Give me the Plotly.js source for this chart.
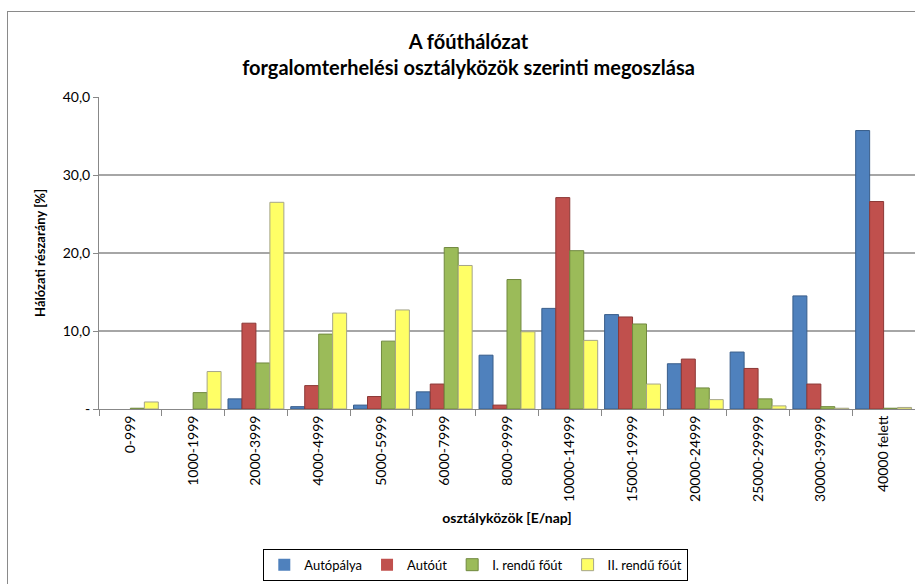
<!DOCTYPE html>
<html>
<head>
<meta charset="utf-8">
<script src="https://cdn.plot.ly/plotly-3.0.1.min.js"></script>
<style>
html,body{margin:0;padding:0;overflow:hidden;background:#fff;}
#frame{position:absolute;left:7px;top:11px;width:1000px;height:1000px;border:1px solid #8a8a8a;pointer-events:none;z-index:5;}
#chart{width:915px;height:584px;}
</style>
</head>
<body>
<div id="frame"></div>
<div id="chart"></div>
<script>
const categories = ["0-999","1000-1999","2000-3999","4000-4999","5000-5999","6000-7999","8000-9999","10000-14999","15000-19999","20000-24999","25000-29999","30000-39999","40000 felett"];
const autopalya = [0, 0, 1.3, 0.3, 0.5, 2.2, 6.9, 12.9, 12.1, 5.8, 7.3, 14.5, 35.7];
const autout    = [0, 0, 11.0, 3.0, 1.6, 3.2, 0.5, 27.1, 11.8, 6.4, 5.2, 3.2, 26.6];
const elsoRendu = [0.1, 2.1, 5.9, 9.6, 8.7, 20.7, 16.6, 20.3, 10.9, 2.7, 1.3, 0.3, 0.1];
const masodRendu= [0.9, 4.8, 26.5, 12.3, 12.7, 18.4, 9.9, 8.8, 3.2, 1.2, 0.4, 0.1, 0.2];
const yTickVals = [0, 10, 20, 30, 40];
const yTickText = ["-", "10,0", "20,0", "30,0", "40,0"];

const FONT = "Lato, 'Open Sans', sans-serif";
function tr(name, y, fill, line){
  return {type:"bar", name:name, x:categories, y:y,
    marker:{color:fill, line:{color:line, width:y.map(v => v > 0 ? 1 : 0)}}, hoverinfo:"y"};
}
const data = [
  tr("Autópálya", autopalya, "#4F81BD", "#385D8A"),
  tr("Autóút", autout, "#C0504D", "#8C3836"),
  tr("I. rendű főút", elsoRendu, "#9BBB59", "#71893F"),
  tr("II. rendű főút", masodRendu, "#FFFF66", "#A5A58A")
];
const layout = {
  width:915, height:584,
  margin:{l:99, r:0, t:97, b:175},
  paper_bgcolor:"#fff", plot_bgcolor:"#fff",
  font:{family:FONT, color:"#000", size:14},
  barmode:"group", bargap:0.11, bargroupgap:0,
  title:{text:"<b>A főúthálózat<br>forgalomterhelési osztályközök szerinti megoszlása</b>",
    font:{family:FONT, size:20, color:"#000"}, x:0.512, xref:"container", xanchor:"center",
    y:0.916, yref:"container", yanchor:"top"},
  xaxis:{type:"category", tickangle:-90, tickson:"boundaries", ticks:"outside", ticklen:6,
    tickcolor:"#888", showline:true, linecolor:"#888", linewidth:1,
    tickfont:{family:FONT, size:14, color:"#000"}, showgrid:false,
    title:{text:"<b>osztályközök [E/nap]</b>", font:{family:FONT, size:14, color:"#000"}, standoff:12}},
  yaxis:{range:[0,40], tickvals:yTickVals, ticktext:yTickText, ticks:"outside", ticklen:5,
    tickcolor:"#888", showline:true, linecolor:"#888", linewidth:1,
    showgrid:true, gridcolor:"#a6a6a6", gridwidth:1.5, zeroline:false,
    tickfont:{family:FONT, size:14, color:"#000"},
    title:{text:"<b>Hálózati részarány [%]</b>", font:{family:FONT, size:13, color:"#000"}, standoff:14}},
  legend:{orientation:"h", xref:"container", yref:"container", x:0.52, xanchor:"center",
    y:0.033, yanchor:"middle", bordercolor:"#000", borderwidth:1, bgcolor:"#fff",
    font:{family:FONT, size:13, color:"#000"}, itemwidth:30, traceorder:"normal"},
  showlegend:true
};
Plotly.newPlot("chart", data, layout, {displayModeBar:false, staticPlot:true});
</script>
</body>
</html>
